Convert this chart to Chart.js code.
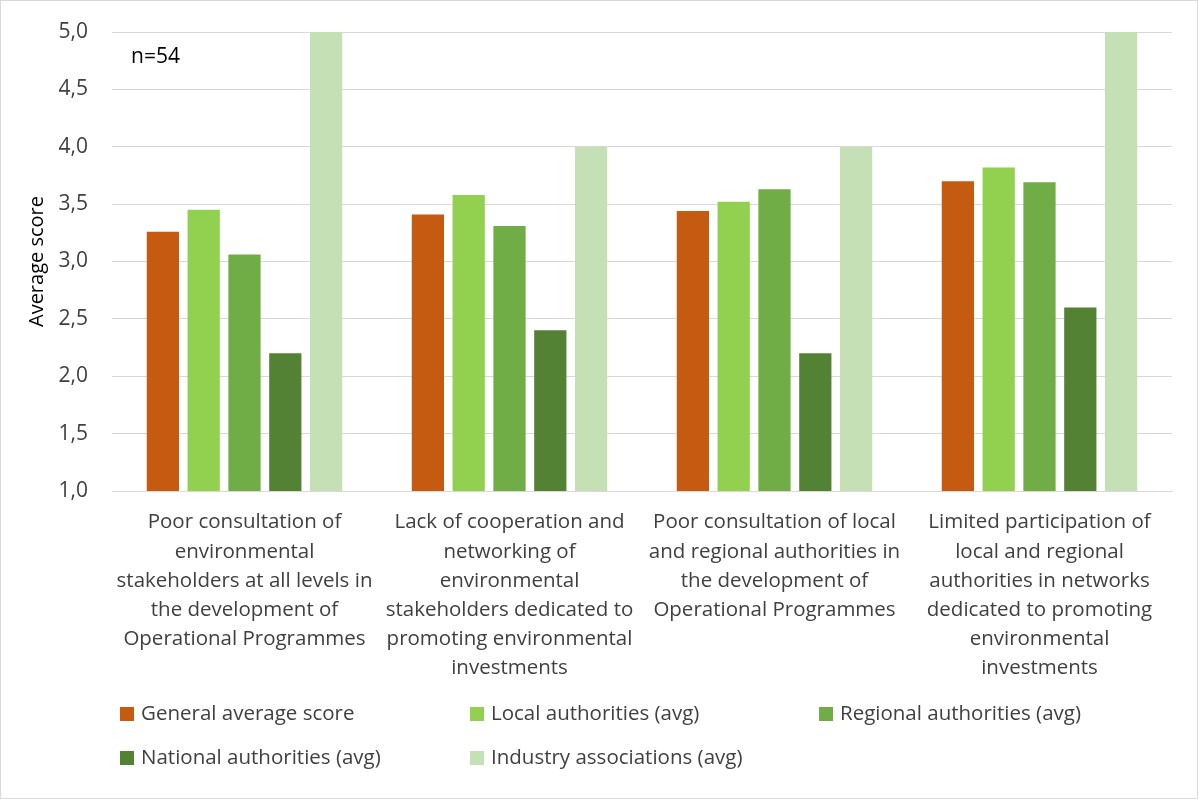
<!DOCTYPE html>
<html>
<head>
<meta charset="utf-8">
<script src="https://cdn.jsdelivr.net/npm/chart.js@4.4.1/dist/chart.umd.min.js"></script>
<style>
  html, body { margin: 0; padding: 0; background: #fff; }
  #wrap { width: 1198px; height: 799px; box-sizing: border-box; border: 1px solid #d9d9d9; }
  canvas { display: block; }
</style>
</head>
<body>
<div id="wrap"><canvas id="c" width="1196" height="797"></canvas></div>
<script>
// Barrier categories (x axis, wrapped per line)
const categories = [
  ["Poor consultation of", "environmental", "stakeholders at all levels in", "the development of", "Operational Programmes"],
  ["Lack of cooperation and", "networking of", "environmental", "stakeholders dedicated to", "promoting environmental", "investments"],
  ["Poor consultation of local", "and regional authorities in", "the development of", "Operational Programmes"],
  ["Limited participation of", "local and regional", "authorities in networks", "dedicated to promoting", "environmental", "investments"]
];

// Average scores per respondent group
const generalAverage   = [3.26, 3.41, 3.44, 3.70];
const localAuthorities = [3.45, 3.58, 3.52, 3.82];
const regionalAuth     = [3.06, 3.31, 3.63, 3.69];
const nationalAuth     = [2.20, 2.40, 2.20, 2.60];
const industryAssoc    = [5.00, 4.00, 4.00, 5.00];

const seriesNames = [
  "General average score",
  "Local authorities (avg)",
  "Regional authorities (avg)",
  "National authorities (avg)",
  "Industry associations (avg)"
];
const seriesColors = ["#c55a11", "#92d050", "#70ad47", "#548235", "#c5e0b4"];
const seriesValues = [generalAverage, localAuthorities, regionalAuth, nationalAuth, industryAssoc];

const yTicks = [1.0, 1.5, 2.0, 2.5, 3.0, 3.5, 4.0, 4.5, 5.0];
const sampleNote = "n=54";

const FONT = "'Open Sans', Lato, sans-serif";
const TEXT = "#404040";

// Two-row, three-column legend and the sample size note
const extras = {
  id: "extras",
  afterDraw(chart) {
    const ctx = chart.ctx;
    const area = chart.chartArea;
    ctx.save();
    ctx.font = "21px " + FONT;
    ctx.fillStyle = "#000";
    ctx.textBaseline = "middle";
    ctx.textAlign = "left";
    ctx.fillText(sampleNote, area.left + 19, 56);

    ctx.font = "20.5px " + FONT;
    const cols = [119, 469, 818];
    const rows = [713, 757];
    chart.data.datasets.forEach((ds, i) => {
      const x = cols[i % 3];
      const y = rows[Math.floor(i / 3)];
      ctx.fillStyle = ds.backgroundColor;
      ctx.fillRect(x, y - 7, 14, 14);
      ctx.fillStyle = TEXT;
      ctx.fillText(ds.label, x + 21, y);
    });
    ctx.restore();
  }
};

new Chart(document.getElementById("c"), {
  type: "bar",
  data: {
    labels: categories,
    datasets: seriesNames.map((name, i) => ({
      label: name,
      data: seriesValues[i],
      backgroundColor: seriesColors[i],
      borderWidth: 0,
      categoryPercentage: 0.77,
      barPercentage: 0.79
    }))
  },
  options: {
    responsive: false,
    animation: false,
    layout: { padding: { top: 31, right: 25, bottom: 110, left: 0 } },
    plugins: {
      legend: { display: false },
      tooltip: { enabled: false }
    },
    scales: {
      x: {
        grid: { display: false, drawTicks: false },
        border: { display: true, color: "#d9d9d9", width: 1 },
        ticks: {
          color: TEXT,
          font: { family: FONT, size: 20.5, lineHeight: 1.42 },
          padding: 17,
          maxRotation: 0,
          autoSkip: false
        },
        afterFit(scale) { scale.height = 197; }
      },
      y: {
        min: 1,
        max: 5,
        afterBuildTicks(scale) { scale.ticks = yTicks.map(v => ({ value: v })); },
        grid: { color: "#d9d9d9", lineWidth: 1, drawTicks: false },
        border: { display: false },
        ticks: {
          color: TEXT,
          font: { family: FONT, size: 21 },
          padding: 24,
          callback: v => v.toFixed(1).replace(".", ",")
        },
        title: {
          display: true,
          text: "Average score",
          color: "#000",
          font: { family: FONT, size: 20 },
          padding: { top: 24, bottom: 0 }
        },
        afterFit(scale) {
          scale.width = 111;
          scale.paddingTop = 0;
          scale.paddingBottom = 0;
        }
      }
    }
  },
  plugins: [extras]
});
</script>
</body>
</html>
